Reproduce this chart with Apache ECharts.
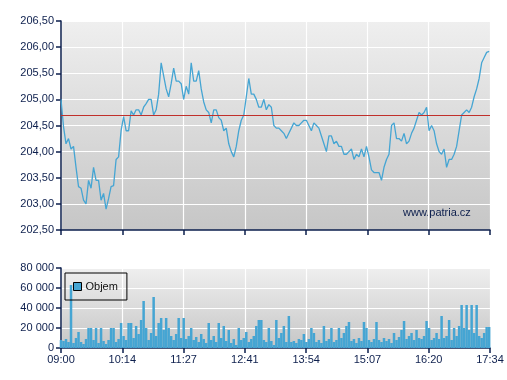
<!DOCTYPE html>
<html><head><meta charset="utf-8">
<script src="https://cdn.jsdelivr.net/npm/echarts@6/dist/echarts.min.js"></script>
<style>html,body{margin:0;padding:0;background:#fff}#c{width:507px;height:380px}</style>
</head><body><div id="c"></div>
<script>
// minutes after 09:00, sampled every 3 minutes
const sessionMinutes = 514;
const sampleStep = 3;
const timeLabels = ['09:00','10:14','11:27','12:41','13:54','15:07','16:20','17:34'];
const referencePrice = 204.69;
const priceValues = [
205.0,204.48,204.15,204.25,204.05,204.1,203.7,203.33,203.3,203.07,203.0,203.45,203.3,203.7,203.45,203.45,203.07,203.2,202.9,203.1,
203.33,203.35,203.85,203.9,204.4,204.67,204.4,204.4,204.78,204.7,204.8,204.8,204.7,204.85,204.92,205.0,205.0,204.7,204.8,205.1,
205.7,205.45,205.2,205.05,205.3,205.6,205.35,205.35,205.3,205.0,205.25,205.1,205.7,205.35,205.35,205.55,205.2,204.95,204.8,204.75,
204.55,204.8,204.8,204.65,204.6,204.4,204.45,204.15,204.0,203.9,204.1,204.4,204.6,204.7,205.05,205.4,205.1,205.1,205.0,204.85,
204.85,205.0,204.8,204.9,204.85,204.5,204.45,204.45,204.4,204.35,204.25,204.35,204.45,204.55,204.5,204.5,204.55,204.6,204.6,204.5,
204.4,204.55,204.5,204.45,204.3,204.15,204.0,204.3,204.3,204.15,204.2,204.1,204.1,203.95,203.95,204.0,204.05,203.85,203.95,203.9,
204.05,203.9,204.1,203.9,203.65,203.6,203.6,203.6,203.45,203.7,203.85,203.95,204.5,204.55,204.25,204.25,204.2,204.35,204.15,204.2,
204.35,204.45,204.6,204.75,204.7,204.75,204.85,204.4,204.5,204.4,204.15,204.0,203.95,204.05,203.7,203.85,203.85,203.95,204.1,204.4,
204.7,204.75,204.8,204.75,204.85,205.05,205.2,205.4,205.7,205.8,205.9,205.92
];
const volumeValues = [
8000,7000,9000,6000,63000,5000,10000,16000,6000,4000,9000,20000,20000,8000,20000,5000,20000,7000,4000,8000,
20000,20000,6000,9000,25000,12000,8000,25000,25000,10000,22000,14000,28000,47000,20000,8000,15000,51000,12000,25000,
30000,18000,30000,20000,12000,8000,14000,30000,10000,30000,9000,12000,20000,8000,11000,6000,14000,9000,5000,25000,
8000,12000,6000,25000,10000,22000,7000,18000,5000,9000,3000,20000,8000,10000,16000,6000,9000,12000,22000,28000,
28000,8000,6000,20000,7000,3000,28000,10000,15000,22000,6000,32000,6000,7000,5000,9000,8000,14000,6000,9000,
20000,15000,6000,8000,5000,22000,7000,9000,20000,6000,8000,20000,10000,15000,22000,26000,7000,9000,5000,10000,
7000,26000,20000,8000,6000,9000,26000,8000,6000,10000,7000,9000,5000,15000,8000,11000,18000,27000,9000,12000,
15000,8000,18000,10000,9000,12000,27000,20000,8000,10000,15000,9000,32000,10000,12000,28000,8000,20000,12000,22000,
43000,20000,43000,18000,43000,15000,43000,12000,10000,15000,21000,21000
];

const navy = '#0d1f4d';
const lineBlue = '#45a5d3';
const bg = {type:'linear',x:0,y:0,x2:0,y2:1,colorStops:[{offset:0,color:'#efefef'},{offset:1,color:'#c6c6c6'}]};
const tickInterval = sessionMinutes / (timeLabels.length - 1);
const fmtTime = v => timeLabels[Math.round(v / tickInterval)] || '';
const font = 'Liberation Sans, Arial, sans-serif';

const priceData = priceValues.map((v, i) => [i * sampleStep, v]);
const volumeData = volumeValues.map((v, i) => [i * sampleStep, v]);

const xCommon = {
  type: 'value', min: 0, max: sessionMinutes, interval: tickInterval,
  axisLine: {show: true, lineStyle: {color: navy, width: 1.5}},
  axisTick: {show: true, length: 5, lineStyle: {color: navy, width: 1.5}},
  splitLine: {show: true, lineStyle: {color: '#ffffff', width: 1.2}}
};
const yCommon = {
  axisLine: {show: true, lineStyle: {color: navy, width: 1.5}},
  axisTick: {show: true, length: 5, lineStyle: {color: navy, width: 1.5}},
  splitLine: {show: true, lineStyle: {color: '#ffffff', width: 1.2}},
  axisLabel: {color: navy, fontFamily: font, fontSize: 11, margin: 7}
};

const chart = echarts.init(document.getElementById('c'), null, {renderer: 'canvas'});
chart.setOption({
  animation: false,
  backgroundColor: '#ffffff',
  grid: [
    {left: 61, right: 17, top: 21, height: 209, show: true, backgroundColor: bg, borderWidth: 0},
    {left: 61, right: 17, top: 268, height: 80, show: true, backgroundColor: bg, borderWidth: 0}
  ],
  xAxis: [
    Object.assign({}, xCommon, {gridIndex: 0, axisLabel: {show: false}}),
    Object.assign({}, xCommon, {gridIndex: 1, axisLabel: {color: navy, fontFamily: font, fontSize: 11, margin: 6, formatter: fmtTime}})
  ],
  yAxis: [
    Object.assign({}, yCommon, {gridIndex: 0, type: 'value', min: 202.5, max: 206.5, interval: 0.5,
      axisLabel: Object.assign({}, yCommon.axisLabel, {formatter: v => v.toFixed(2).replace('.', ',')})}),
    Object.assign({}, yCommon, {gridIndex: 1, type: 'value', min: 0, max: 80000, interval: 20000,
      axisLabel: Object.assign({}, yCommon.axisLabel, {formatter: v => String(v).replace(/\B(?=(\d{3})+(?!\d))/g, ' ')})})
  ],
  legend: {
    data: ['Objem'], left: 65, top: 273, orient: 'vertical',
    padding: [8, 9, 8, 8], borderColor: '#000', borderWidth: 1, backgroundColor: 'transparent',
    itemWidth: 8, itemHeight: 8, itemGap: 5, icon: 'rect',
    itemStyle: {borderColor: '#000', borderWidth: 1},
    textStyle: {color: '#111', fontFamily: font, fontSize: 11, padding: [0, 0, 0, -1]}
  },
  graphic: [{
    type: 'text', left: 403, top: 207,
    style: {text: 'www.patria.cz', fill: navy, font: '11px ' + font}
  }],
  series: [
    {
      name: 'Cena', type: 'line', xAxisIndex: 0, yAxisIndex: 0, data: priceData,
      showSymbol: false, lineStyle: {color: lineBlue, width: 1.3}, itemStyle: {color: lineBlue},
      markLine: {silent: true, symbol: 'none', label: {show: false},
        lineStyle: {color: '#c0302b', width: 1, type: 'solid'}, data: [{yAxis: referencePrice}]}
    },
    {
      name: 'Objem', type: 'bar', xAxisIndex: 1, yAxisIndex: 1, data: volumeData,
      barWidth: 2.5, itemStyle: {color: lineBlue}
    }
  ]
});
</script></body></html>
